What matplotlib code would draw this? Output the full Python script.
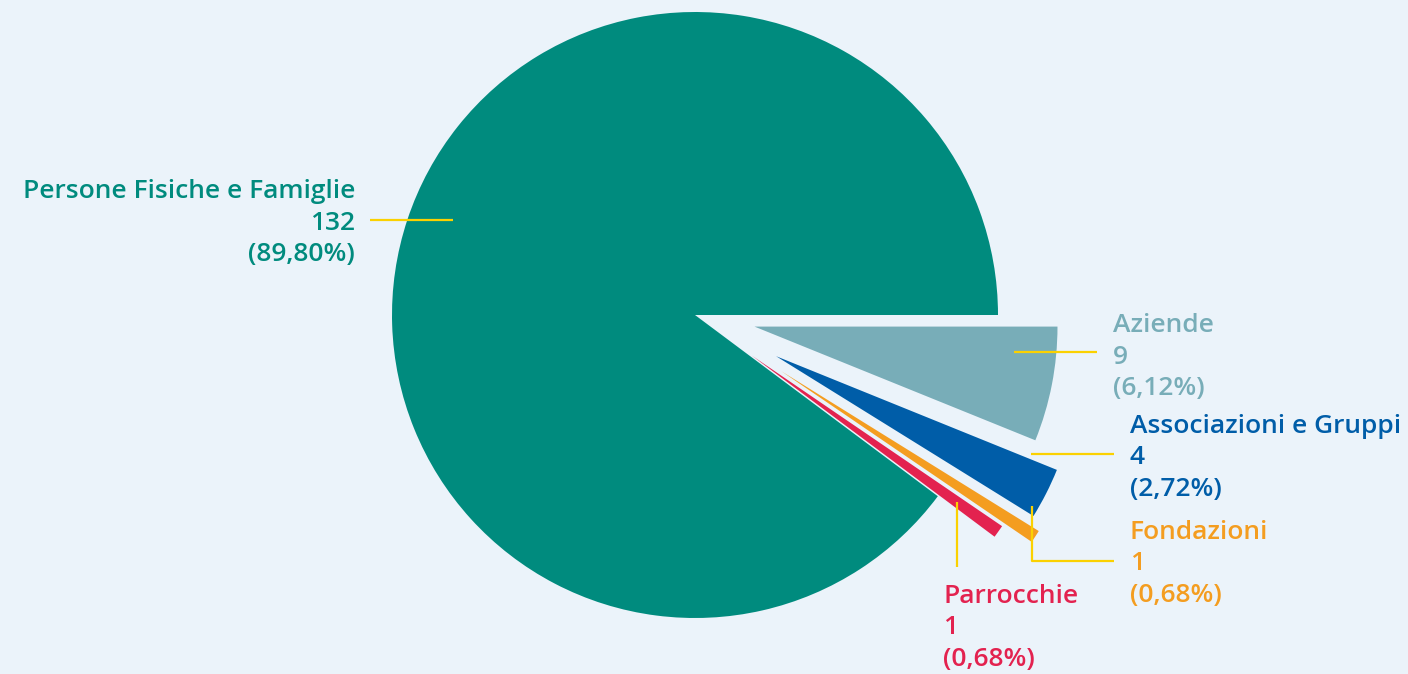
import matplotlib.pyplot as plt

# dati
categories = ['Aziende', 'Associazioni e Gruppi', 'Fondazioni', 'Parrocchie', 'Persone Fisiche e Famiglie']
counts = [9, 4, 1, 1, 132]
colors = ['#78adb8', '#005da8', '#f49d20', '#e3224f', '#008b7e']
explode = [0.2, 0.3, 0.34, 0.23, 0]

bg = '#ebf3fa'
line_col = '#fbd100'

# geometria in pixel della torta nel riferimento
W, H = 1408, 674
cx, cy, R = 695, 315, 303


def px(x, y):
    # pixel -> coordinate dati (raggio = 1)
    return (x - cx) / R, (cy - y) / R


# posizione etichette: (x, y centro, allineamento) e linee guida in pixel
label_pos = {
    'Persone Fisiche e Famiglie': (355, 223, 'right'),
    'Aziende': (1113, 357, 'left'),
    'Associazioni e Gruppi': (1130, 458, 'left'),
    'Fondazioni': (1130, 564, 'left'),
    'Parrocchie': (943, 628, 'left'),
}
leaders = {
    'Persone Fisiche e Famiglie': [(453, 220), (370, 220)],
    'Aziende': [(1014, 352), (1097, 352)],
    'Associazioni e Gruppi': [(1031, 454), (1114, 454)],
    'Fondazioni': [(1032, 506), (1032, 561), (1114, 561)],
    'Parrocchie': [(957, 502), (957, 567)],
}

fig = plt.figure(figsize=(W / 100, H / 100), dpi=100, facecolor=bg)
ax = fig.add_axes([0, 0, 1, 1])
ax.set_facecolor(bg)

ax.pie(counts, colors=colors, explode=explode, startangle=0, counterclock=False,
       radius=1, wedgeprops={'linewidth': 0})

total = sum(counts)
for cat, n, col in zip(categories, counts, colors):
    pts = [px(*p) for p in leaders[cat]]
    ax.plot([p[0] for p in pts], [p[1] for p in pts], color=line_col, lw=1.6,
            solid_capstyle='butt', zorder=3)
    x, y, ha = label_pos[cat]
    pct = f'{100 * n / total:.2f}'.replace('.', ',')
    ax.text(*px(x, y), f'{cat}\n{n}\n({pct}%)', ha=ha, va='center', color=col,
            fontsize=19, fontfamily='Open Sans', fontweight='semibold',
            linespacing=1.35, multialignment=ha)

ax.set_xlim(-cx / R, (W - cx) / R)
ax.set_ylim(-(H - cy) / R, cy / R)
ax.set_aspect('auto')
ax.axis('off')

fig.savefig('out.png', dpi=100, facecolor=bg)
